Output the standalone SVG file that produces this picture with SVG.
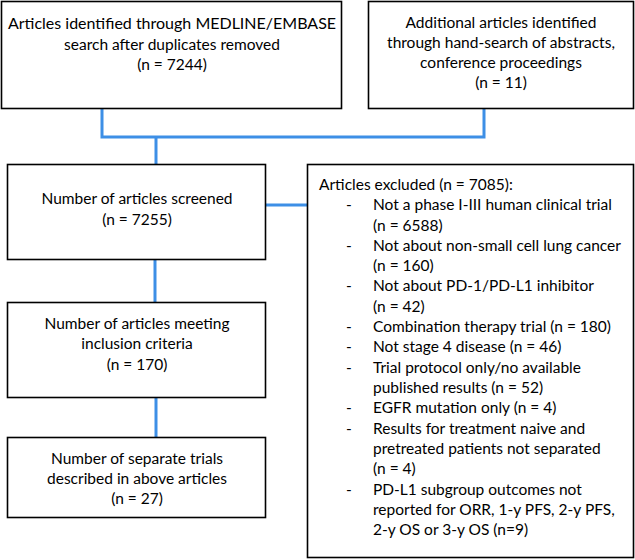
<svg xmlns="http://www.w3.org/2000/svg" width="635" height="560" viewBox="0 0 635 560">
<style>
.box{fill:#fff;stroke:#000;stroke-width:1.6}
.t{font-family:Lato,"Open Sans","Liberation Sans",sans-serif;font-size:15.5px;fill:#000}
.c{text-anchor:middle}
.conn{fill:none;stroke:#3d8fe6;stroke-width:3}
</style>
<rect width="635" height="560" fill="#fff"/>
<g id="connectors">
<path class="conn" d="M102,109 V137 H484 V109"/>
<path class="conn" d="M156,137 V164"/>
<path class="conn" d="M266,205 H307"/>
<path class="conn" d="M155,259 V302"/>
<path class="conn" d="M156,397 V437"/>
</g>
<g id="n1">
<rect class="box" x="1.5" y="1.5" width="340" height="107"/>
<text class="t c" x="172" y="29" style="font-size:16px">Articles identified through MEDLINE/EMBASE</text>
<text class="t c" x="172" y="50">search after duplicates removed</text>
<text class="t c" x="172" y="70">(n = 7244)</text>
</g>
<g id="n2">
<rect class="box" x="368.5" y="1.5" width="265" height="107"/>
<text class="t c" x="501" y="28">Additional articles identified</text>
<text class="t c" x="501" y="48">through hand-search of abstracts,</text>
<text class="t c" x="501" y="68">conference proceedings</text>
<text class="t c" x="501" y="88">(n = 11)</text>
</g>
<g id="n3">
<rect class="box" x="7.5" y="164.5" width="258" height="95"/>
<text class="t c" x="137" y="204">Number of articles screened</text>
<text class="t c" x="137" y="225">(n = 7255)</text>
</g>
<g id="n4">
<rect class="box" x="307.5" y="164.5" width="326" height="393"/>
<text class="t" x="319" y="190">Articles excluded (n = 7085):</text>
<g class="t">
<text x="346" y="210">-</text><text x="373" y="210">Not a phase I-III human clinical trial</text>
<text x="373" y="231">(n = 6588)</text>
<text x="346" y="251">-</text><text x="373" y="251">Not about non-small cell lung cancer</text>
<text x="373" y="271">(n = 160)</text>
<text x="346" y="291">-</text><text x="373" y="291">Not about PD-1/PD-L1 inhibitor</text>
<text x="373" y="312">(n = 42)</text>
<text x="346" y="332">-</text><text x="373" y="332">Combination therapy trial (n = 180)</text>
<text x="346" y="352">-</text><text x="373" y="352">Not stage 4 disease (n = 46)</text>
<text x="346" y="373">-</text><text x="373" y="373">Trial protocol only/no available</text>
<text x="373" y="393">published results (n = 52)</text>
<text x="346" y="413">-</text><text x="373" y="413">EGFR mutation only (n = 4)</text>
<text x="346" y="434">-</text><text x="373" y="434">Results for treatment naive and</text>
<text x="373" y="454">pretreated patients not separated</text>
<text x="373" y="474">(n = 4)</text>
<text x="346" y="495">-</text><text x="373" y="495">PD-L1 subgroup outcomes not</text>
<text x="373" y="515">reported for ORR, 1-y PFS, 2-y PFS,</text>
<text x="373" y="535">2-y OS or 3-y OS (n=9)</text>
</g>
</g>
<g id="n5">
<rect class="box" x="7.5" y="302.5" width="258" height="95"/>
<text class="t c" x="137" y="329">Number of articles meeting</text>
<text class="t c" x="137" y="349">inclusion criteria</text>
<text class="t c" x="137" y="370">(n = 170)</text>
</g>
<g id="n6">
<rect class="box" x="7.5" y="437.5" width="258" height="80"/>
<text class="t c" x="137" y="464">Number of separate trials</text>
<text class="t c" x="137" y="484">described in above articles</text>
<text class="t c" x="137" y="504">(n = 27)</text>
</g>
</svg>
